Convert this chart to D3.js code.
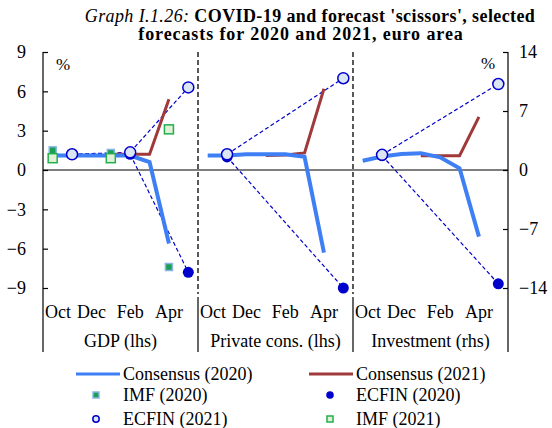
<!DOCTYPE html>
<html>
	<head>
		<meta charset="utf-8">
		<script type="text/javascript" src="https://cdn.jsdelivr.net/npm/d3@7"></script>
		<style>
			body { margin: 0; background: #fff; }
			text { font-family: "Liberation Serif", "Times New Roman", serif; fill: #000; }
		</style>
	</head>
	<body>
		<svg id="viz"></svg>
		<script>
			// Months on each panel's x axis
			var months = ["Oct", "Nov", "Dec", "Jan", "Feb", "Mar", "Apr", "May"];
			var tickMonths = ["Oct", "Dec", "Feb", "Apr"];
			var panels = ["GDP (lhs)", "Private cons. (lhs)", "Investment (rhs)"];
			var leftTicks = [-9, -6, -3, 0, 3, 6, 9];
			var rightTicks = [-14, -7, 0, 7, 14];

			// Consensus, monthly
			var consMonths2020 = ["Oct", "Nov", "Dec", "Jan", "Feb", "Mar", "Apr"];
			var consMonths2021 = ["Jan", "Feb", "Mar", "Apr"];
			var gdpCons2020 = [1.1, 1.1, 1.1, 1.1, 1.1, 0.6, -5.6];
			var gdpCons2021 = [1.2, 1.2, 1.2, 5.4];
			var pcCons2020 = [1.1, 1.1, 1.2, 1.2, 1.2, 1.0, -6.3];
			var pcCons2021 = [1.1, 1.15, 1.3, 6.2];
			var invCons2020 = [1.1, 1.6, 1.9, 2.0, 1.5, 0.2, -7.9];
			var invCons2021 = [1.7, 1.7, 1.7, 6.3];

			// IMF (GDP only)
			var imfMonths = ["Oct", "Jan", "Apr"];
			var imf2020 = [1.5, 1.3, -7.4];
			var imf2021 = [0.9, 0.9, 3.1];

			// ECFIN forecasts
			var gdpEcfinMonths = ["Nov", "Feb", "May"];
			var gdpEcfin2020 = [1.2, 1.2, -7.8];
			var gdpEcfin2021 = [1.2, 1.35, 6.3];
			var otherEcfinMonths = ["Nov", "May"];
			var pcEcfin2020 = [1.0, -9.0];
			var pcEcfin2021 = [1.2, 7.0];
			var invEcfin2020 = [1.7, -13.5];
			var invEcfin2021 = [1.8, 10.2];

			var width = 552, height = 428;
			var plotLeft = 43, plotRight = 508, plotTop = 52, plotBottom = 288, axisEnd = 352;
			var panelW = (plotRight - plotLeft) / 3;

			var blue = "#3f7ff5", red = "#a0393a", navy = "#0000cc";

			var svg = d3.select("#viz").attr("width", width).attr("height", height);

			var yL = d3.scaleLinear().domain([-9, 9]).range([plotBottom, plotTop]);
			var yR = d3.scaleLinear().domain([-14, 14]).range([plotBottom, plotTop]);
			var xm = d3.scalePoint().domain(months).range([0, panelW]).padding(0.5);

			function zip(ms, vals) {
				return ms.map(function(m, i) { return { m: m, v: vals[i] }; });
			}

			var panelData = [
				{ y: yL, c20: gdpCons2020, c21: gdpCons2021, em: gdpEcfinMonths, e20: gdpEcfin2020, e21: gdpEcfin2021, imf: true },
				{ y: yL, c20: pcCons2020, c21: pcCons2021, em: otherEcfinMonths, e20: pcEcfin2020, e21: pcEcfin2021, imf: false },
				{ y: yR, c20: invCons2020, c21: invCons2021, em: otherEcfinMonths, e20: invEcfin2020, e21: invEcfin2021, imf: false }
			];

			// Title
			var title = svg.append("text").attr("x", 310).attr("y", 22).attr("text-anchor", "middle")
				.style("font-size", "18px").style("letter-spacing", "0.4px");
			title.append("tspan").style("font-style", "italic").text("Graph I.1.26: ");
			title.append("tspan").style("font-weight", "bold").text("COVID-19 and forecast 'scissors', selected");
			svg.append("text").attr("x", 301).attr("y", 40).attr("text-anchor", "middle")
				.style("font-size", "18px").style("font-weight", "bold").style("letter-spacing", "0.9px")
				.text("forecasts for 2020 and 2021, euro area");

			// Zero line
			svg.append("line").attr("x1", plotLeft).attr("x2", plotRight).attr("y1", yL(0)).attr("y2", yL(0))
				.attr("stroke", "#000").attr("stroke-width", 1.2);

			// Axes
			var gl = svg.append("g").attr("transform", "translate(" + plotLeft + ",0)")
				.call(d3.axisLeft(yL).tickValues(leftTicks).tickSizeInner(-5).tickSizeOuter(0).tickPadding(17));
			var gr = svg.append("g").attr("transform", "translate(" + plotRight + ",0)")
				.call(d3.axisRight(yR).tickValues(rightTicks).tickSizeInner(-5).tickSizeOuter(0).tickPadding(11));
			[gl, gr].forEach(function(g) {
				g.select(".domain").remove();
				g.selectAll("text").style("font-size", "18px").attr("font-family", null);
				g.selectAll("line").attr("stroke-width", 1.2);
			});
			[plotLeft, plotRight].forEach(function(x) {
				svg.append("line").attr("x1", x).attr("x2", x).attr("y1", plotTop).attr("y2", axisEnd)
					.attr("stroke", "#000").attr("stroke-width", 1.2);
			});

			svg.append("text").attr("x", 63).attr("y", 70).attr("text-anchor", "middle").style("font-size", "17px").text("%");
			svg.append("text").attr("x", 488).attr("y", 69).attr("text-anchor", "middle").style("font-size", "17px").text("%");

			var line = d3.line();

			panelData.forEach(function(p, i) {
				var x0 = plotLeft + i * panelW;
				var px = function(m) { return x0 + xm(m); };

				// separators
				if (i > 0) {
					svg.append("line").attr("x1", x0).attr("x2", x0).attr("y1", plotTop).attr("y2", 294)
						.attr("stroke", "#000").attr("stroke-width", 1.3).attr("stroke-dasharray", "5,3");
					svg.append("line").attr("x1", x0).attr("x2", x0).attr("y1", 297).attr("y2", axisEnd)
						.attr("stroke", "#000").attr("stroke-width", 1.2);
				}

				// month labels
				tickMonths.forEach(function(m, j) {
					svg.append("text")
						.attr("x", j === 0 ? x0 + 2 : px(m))
						.attr("y", 318)
						.attr("text-anchor", j === 0 ? "start" : "middle")
						.style("font-size", "18px")
						.text(m);
				});
				svg.append("text").attr("x", x0 + panelW / 2).attr("y", 347).attr("text-anchor", "middle")
					.style("font-size", "18px").text(panels[i]);

				// dashed ECFIN links
				[p.e20, p.e21].forEach(function(vals) {
					svg.append("path")
						.attr("d", line(zip(p.em, vals).map(function(d) { return [px(d.m), p.y(d.v)]; })))
						.attr("fill", "none").attr("stroke", navy).attr("stroke-width", 1.2).attr("stroke-dasharray", "4,2.5");
				});

				svg.append("path")
					.attr("d", line(zip(consMonths2021, p.c21).map(function(d) { return [px(d.m), p.y(d.v)]; })))
					.attr("fill", "none").attr("stroke", red).attr("stroke-width", 3);
				svg.append("path")
					.attr("d", line(zip(consMonths2020, p.c20).map(function(d) { return [px(d.m), p.y(d.v)]; })))
					.attr("fill", "none").attr("stroke", blue).attr("stroke-width", 4);

				if (p.imf) {
					zip(imfMonths, imf2020).forEach(function(d) {
						svg.append("rect").attr("x", px(d.m) - 3.5).attr("y", p.y(d.v) - 3.5).attr("width", 7).attr("height", 7)
							.attr("fill", "#1aa050").attr("stroke", "#8ab4e8").attr("stroke-width", 1.5);
					});
					zip(imfMonths, imf2021).forEach(function(d) {
						svg.append("rect").attr("x", px(d.m) - 4.5).attr("y", p.y(d.v) - 4.5).attr("width", 9).attr("height", 9)
							.attr("fill", "#e2f0d9").attr("stroke", "#22b04a").attr("stroke-width", 1.5);
					});
				}

				zip(p.em, p.e20).forEach(function(d) {
					svg.append("circle").attr("cx", px(d.m)).attr("cy", p.y(d.v)).attr("r", 5.5)
						.attr("fill", navy);
				});
				zip(p.em, p.e21).forEach(function(d) {
					svg.append("circle").attr("cx", px(d.m)).attr("cy", p.y(d.v)).attr("r", 5.5)
						.attr("fill", "#dce6f2").attr("stroke", navy).attr("stroke-width", 1.5);
				});
			});

			// Legend
			var legend = svg.append("g");
			function legText(x, y, t) {
				legend.append("text").attr("x", x).attr("y", y).style("font-size", "18px").text(t);
			}
			legend.append("line").attr("x1", 76).attr("x2", 120).attr("y1", 374).attr("y2", 374).attr("stroke", blue).attr("stroke-width", 3);
			legText(123, 380, "Consensus (2020)");
			legend.append("line").attr("x1", 309).attr("x2", 353).attr("y1", 374).attr("y2", 374).attr("stroke", red).attr("stroke-width", 3);
			legText(356, 380, "Consensus (2021)");

			legend.append("rect").attr("x", 93).attr("y", 392).attr("width", 6).attr("height", 6)
				.attr("fill", "#1aa050").attr("stroke", "#8ab4e8").attr("stroke-width", 1.5);
			legText(123, 401, "IMF (2020)");
			legend.append("circle").attr("cx", 330).attr("cy", 395).attr("r", 3.8).attr("fill", navy);
			legText(356, 401, "ECFIN (2020)");

			legend.append("circle").attr("cx", 96).attr("cy", 419).attr("r", 3.2)
				.attr("fill", "#dce6f2").attr("stroke", navy).attr("stroke-width", 1.5);
			legText(123, 425, "ECFIN (2021)");
			legend.append("rect").attr("x", 327).attr("y", 416).attr("width", 6).attr("height", 6)
				.attr("fill", "#e2f0d9").attr("stroke", "#22b04a").attr("stroke-width", 1.5);
			legText(356, 425, "IMF (2021)");
		</script>
	</body>
</html>
